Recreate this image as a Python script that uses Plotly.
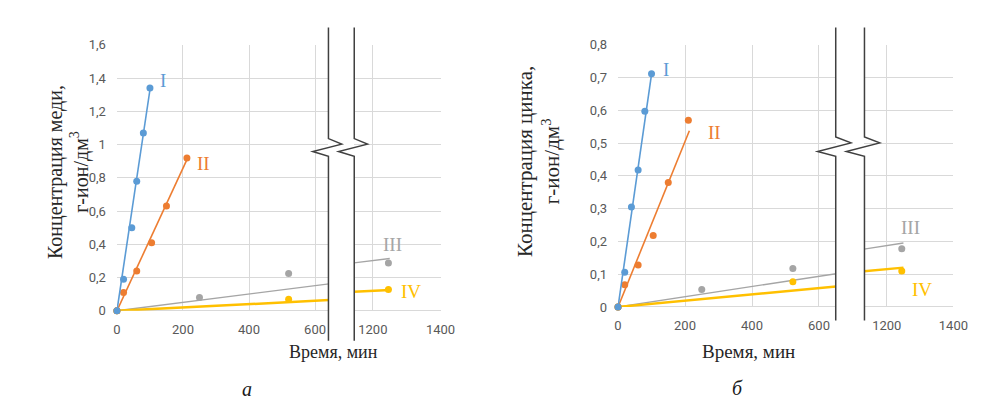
import plotly.graph_objects as go

# ---------------- data ----------------
# Panel a: copper
cu_I_t = [0, 20, 45, 60, 80, 100]
cu_I_c = [0, 0.19, 0.50, 0.78, 1.07, 1.34]
cu_II_t = [0, 20, 60, 105, 150, 212]
cu_II_c = [0, 0.11, 0.24, 0.41, 0.63, 0.92]
cu_III_t = [0, 250, 520, 1246]
cu_III_c = [0, 0.08, 0.224, 0.288]
cu_IV_t = [0, 520, 1246]
cu_IV_c = [0, 0.07, 0.128]
# trendlines (end points)
cu_I_fit_t, cu_I_fit_c = [0, 100], [0, 1.33]
cu_II_fit_t, cu_II_fit_c = [0, 212], [0, 0.91]
cu_III_fit_t, cu_III_fit_c = [0, 1250], [0, 0.315]
cu_IV_fit_t, cu_IV_fit_c = [0, 1250], [0, 0.125]

# Panel b: zinc
zn_I_t = [0, 20, 40, 60, 80, 100]
zn_I_c = [0, 0.106, 0.305, 0.418, 0.597, 0.712]
zn_II_t = [0, 20, 60, 105, 150, 210]
zn_II_c = [0, 0.068, 0.128, 0.218, 0.38, 0.57]
zn_III_t = [0, 250, 522, 1245]
zn_III_c = [0, 0.053, 0.117, 0.178]
zn_IV_t = [0, 522, 1245]
zn_IV_c = [0, 0.077, 0.11]
zn_I_fit_t, zn_I_fit_c = [0, 100], [0, 0.71]
zn_II_fit_t, zn_II_fit_c = [0, 213], [0, 0.538]
zn_III_fit_t, zn_III_fit_c = [0, 1250], [0, 0.195]
zn_IV_fit_t, zn_IV_fit_c = [0, 1250], [0, 0.12]

series_names = ["I", "II", "III", "IV"]
colors = ["#5B9BD5", "#ED7D31", "#A5A5A5", "#FFC000"]

x_ticks_left = [0, 200, 400, 600]
x_ticks_right = [1200, 1400]
y_ticks_cu = [0, 0.2, 0.4, 0.6, 0.8, 1.0, 1.2, 1.4, 1.6]
y_labels_cu = ["0", "0,2", "0,4", "0,6", "0,8", "1", "1,2", "1,4", "1,6"]
y_ticks_zn = [0, 0.1, 0.2, 0.3, 0.4, 0.5, 0.6, 0.7, 0.8]
y_labels_zn = ["0", "0,1", "0,2", "0,3", "0,4", "0,5", "0,6", "0,7", "0,8"]

# label positions for roman numerals (data coords)
cu_label_pos = [(139, 1.385, "x"), (261, 0.887, "x"), (1258, 0.40, "x2"), (1313, 0.116, "x2")]
zn_label_pos = [(142, 0.724, "x3"), (287, 0.532, "x3"), (1272, 0.244, "x4"), (1307, 0.053, "x4")]

# ---------------- layout helpers ----------------
W, H = 981, 411
def px(x):
    return x / W
def py(y):
    return 1 - y / H

fig = go.Figure()

def add_series(t, c, ft, fc, color, xl, xr, ya, lmax, width, msize):
    # trend line in both pieces
    for xa in (xl, xr):
        fig.add_trace(go.Scatter(x=ft, y=fc, mode="lines", xaxis=xa, yaxis=ya,
                                 line=dict(color=color, width=width),
                                 hoverinfo="skip", showlegend=False))
    # markers split by piece
    lt = [a for a in t if a <= lmax]
    lc = [b for a, b in zip(t, c) if a <= lmax]
    rt = [a for a in t if a > lmax]
    rc = [b for a, b in zip(t, c) if a > lmax]
    if lt:
        fig.add_trace(go.Scatter(x=lt, y=lc, mode="markers", xaxis=xl, yaxis=ya,
                                 marker=dict(color=color, size=msize), cliponaxis=False,
                                 showlegend=False))
    if rt:
        fig.add_trace(go.Scatter(x=rt, y=rc, mode="markers", xaxis=xr, yaxis=ya,
                                 marker=dict(color=color, size=msize), cliponaxis=False,
                                 showlegend=False))

cu_left_max = 640.6
zn_left_max = 650

cu_data = [(cu_III_t, cu_III_c, cu_III_fit_t, cu_III_fit_c),
           (cu_IV_t, cu_IV_c, cu_IV_fit_t, cu_IV_fit_c),
           (cu_II_t, cu_II_c, cu_II_fit_t, cu_II_fit_c),
           (cu_I_t, cu_I_c, cu_I_fit_t, cu_I_fit_c)]
zn_data = [(zn_III_t, zn_III_c, zn_III_fit_t, zn_III_fit_c),
           (zn_IV_t, zn_IV_c, zn_IV_fit_t, zn_IV_fit_c),
           (zn_II_t, zn_II_c, zn_II_fit_t, zn_II_fit_c),
           (zn_I_t, zn_I_c, zn_I_fit_t, zn_I_fit_c)]
order = [2, 3, 1, 0]
widths = {0: 1.6, 1: 1.6, 2: 1.4, 3: 2.5}
for k, (t, c, ft, fc) in zip(order, cu_data):
    add_series(t, c, ft, fc, colors[k], "x", "x2", "y", cu_left_max, widths[k], 7)
for k, (t, c, ft, fc) in zip(order, zn_data):
    add_series(t, c, ft, fc, colors[k], "x3", "x4", "y2", zn_left_max, widths[k], 7)

grid = "#D9D9D9"
tickfont = dict(family="Liberation Sans Narrow, Roboto, Liberation Sans", size=13, color="#595959")

def xaxis(domain, rng, ticks, anchor):
    return dict(domain=domain, range=rng, anchor=anchor, tickvals=ticks,
                ticktext=[str(v) for v in ticks], showgrid=True, gridcolor=grid,
                gridwidth=1, zeroline=False, showline=False, ticks="",
                tickfont=tickfont, ticklabelstandoff=9, fixedrange=True)

def yaxis(domain, rng, ticks, labels, anchor):
    return dict(domain=domain, range=rng, anchor=anchor, tickvals=ticks, ticktext=labels,
                showgrid=True, gridcolor=grid, gridwidth=1, zeroline=True,
                zerolinecolor=grid, zerolinewidth=1, showline=False, ticks="",
                tickfont=tickfont, ticklabelstandoff=10, fixedrange=True)

fig.update_layout(
    width=W, height=H, margin=dict(l=0, r=0, t=0, b=0),
    paper_bgcolor="white", plot_bgcolor="white", showlegend=False,
    xaxis=xaxis([px(107), px(322.7)], [0, cu_left_max], x_ticks_left, "y"),
    xaxis2=xaxis([px(349), px(437)], [1145, 1400], x_ticks_right, "y"),
    yaxis=yaxis([py(307), py(31)], [0, 1.6], y_ticks_cu, y_labels_cu, "x"),
    xaxis3=xaxis([px(618), px(840)], [0, zn_left_max], x_ticks_left, "y2"),
    xaxis4=xaxis([px(869.3), px(960)], [1133, 1400], x_ticks_right, "y2"),
    yaxis2=yaxis([py(303), py(31)], [0, 0.8], y_ticks_zn, y_labels_zn, "x3"),
)

serif = "Liberation Serif, Times New Roman, serif"
ann = []
for (x, y, xa), name, col in zip(cu_label_pos, series_names, colors):
    ann.append(dict(x=x, y=y, xref=xa, yref="y", text=name, showarrow=False,
                    font=dict(family=serif, size=19, color=col)))
for (x, y, xa), name, col in zip(zn_label_pos, series_names, colors):
    ann.append(dict(x=x, y=y, xref=xa, yref="y2", text=name, showarrow=False,
                    font=dict(family=serif, size=19, color=col)))

# axis titles
ann.append(dict(x=px(30), y=py(163), xref="paper", yref="paper", textangle=-90,
                text="Концентрация меди,<br>г-ион/дм<sup>3</sup>", showarrow=False,
                font=dict(family=serif, size=20, color="#262626")))
ann.append(dict(x=px(537), y=py(152), xref="paper", yref="paper", textangle=-90,
                text="Концентрация цинка,<br>г-ион/дм<sup>3</sup>", showarrow=False,
                font=dict(family=serif, size=21, color="#262626")))
ann.append(dict(x=px(280), y=py(362), xref="paper", yref="paper",
                text="Время, мин", showarrow=False,
                font=dict(family=serif, size=18, color="#262626")))
ann.append(dict(x=px(800), y=py(362), xref="paper", yref="paper",
                text="Время, мин", showarrow=False,
                font=dict(family=serif, size=19, color="#262626")))
ann.append(dict(x=px(233), y=py(402), xref="paper", yref="paper",
                text="<i>а</i>", showarrow=False,
                font=dict(family=serif, size=20, color="#1a1a1a")))
ann.append(dict(x=px(747), y=py(401), xref="paper", yref="paper",
                text="<i>б</i>", showarrow=False,
                font=dict(family=serif, size=20, color="#1a1a1a")))
fig.update_layout(annotations=ann)

# axis-break symbols
def break_path(xl, xr, ytop, ybot, z0, z1, z2, z3, dr, dl):
    parts = []
    for x in (xl, xr):
        pts = [(x, ytop), (x, z0), (x + dr, z1), (x - dl, z2), (x, z3), (x, ybot)]
        d = "M " + " L ".join(f"{px(a):.5f},{py(b):.5f}" for a, b in pts)
        parts.append(d)
    return parts

shapes = []
for d in break_path(322.7, 349, 13, 338, 128.3, 134, 141.7, 146.7, 13.5, 16):
    shapes.append(dict(type="path", path=d, xref="paper", yref="paper",
                       line=dict(color="#404040", width=1.5)))
for d in break_path(840, 869.3, 13, 317, 126.7, 132.7, 141.7, 146.7, 15.5, 18.5):
    shapes.append(dict(type="path", path=d, xref="paper", yref="paper",
                       line=dict(color="#404040", width=1.5)))
fig.update_layout(shapes=shapes)

fig.write_html("out.html")
